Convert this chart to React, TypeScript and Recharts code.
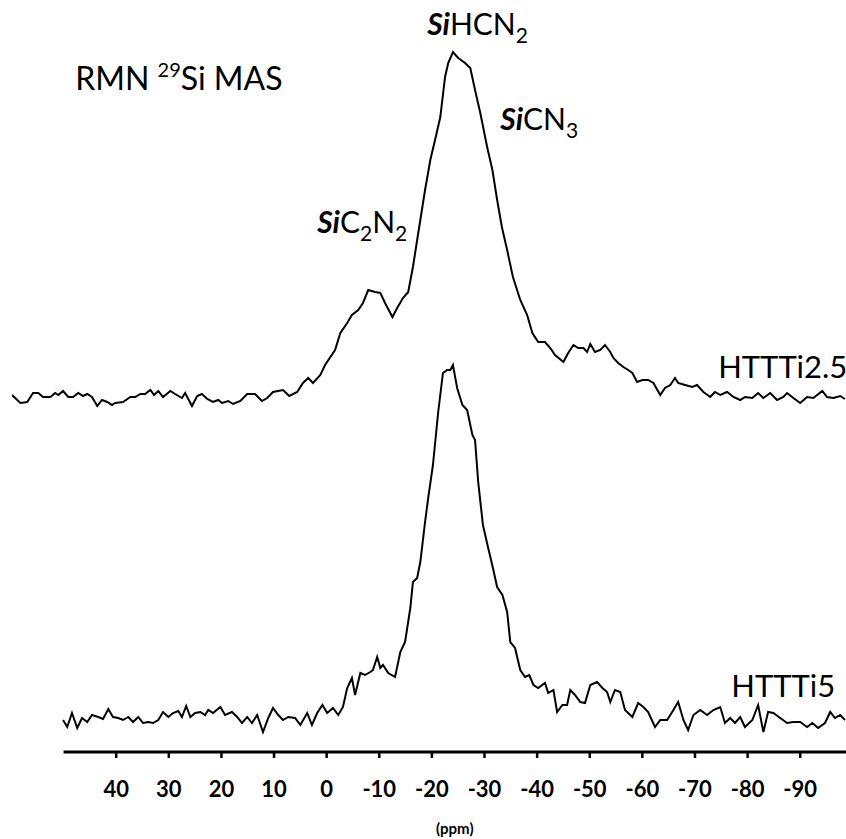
import { LineChart, Line, XAxis, YAxis, ReferenceLine, ReferenceDot } from "recharts"

// chemical shift (ppm) and intensity (a.u., relative to each baseline)
const topPpm = [
  59.8, 58.2, 56.9, 55.8, 54.8, 53.9, 52.5, 51.6, 51.0, 50.1, 49.1, 48.2, 47.2, 46.3, 45.5, 44.6,
  43.6, 42.7, 41.7, 40.8, 40.2, 38.7, 37.3, 36.4, 35.4, 34.5, 33.5, 32.8, 32.0, 31.1, 29.7, 28.8,
  27.5, 26.9, 25.6, 24.6, 23.7, 22.7, 21.6, 20.6, 19.9, 18.7, 17.8, 16.4, 15.1, 13.6, 12.3, 11.3,
  10.2, 8.3, 7.1, 5.6, 4.5, 3.5, 2.6, 1.2, 0.3, -0.7, -1.6, -2.6, -3.9, -4.8, -6.0, -6.9, -7.9,
  -9.2, -10.2, -11.1, -12.5, -13.4, -14.5, -15.5, -16.4, -17.2, -17.8, -18.7, -19.7, -20.6, -21.6,
  -22.5, -23.1, -24.0, -25.0, -26.3, -27.3, -28.2, -29.2, -30.5, -31.5, -32.4, -33.3, -34.3, -35.4,
  -36.8, -38.1, -39.1, -40.2, -41.5, -42.5, -43.4, -45.0, -45.9, -46.9, -47.8, -48.8, -49.5, -50.1,
  -51.0, -52.0, -52.9, -53.9, -54.5, -55.4, -56.4, -57.3, -58.1, -59.0, -60.0, -61.1, -62.1, -63.4,
  -64.3, -65.3, -66.2, -66.8, -68.1, -69.5, -70.4, -71.6, -72.9, -73.8, -74.8, -76.1, -77.3, -78.6,
  -79.5, -80.9, -82.0, -83.0, -84.3, -85.6, -86.8, -87.5, -88.7, -90.0, -91.3, -92.5, -94.2, -95.1,
  -96.3, -97.6, -98.5,
]
const topInt = [
  1, -7, -6, 3, 3, -1, -1, 3, 1, 5, -1, -1, 3, 0, 2, -1,
  -10, -4, -6, -9, -7, -6, -1, -1, 2, 2, 6, 1, 5, -1, 5, 2,
  -2, 3, -10, 0, 2, -3, -6, -4, -7, -5, -8, -5, 2, 2, -5, -2,
  4, 6, 0, 4, 13, 18, 13, 21, 31, 39, 46, 63, 73, 81, 86, 93, 106,
  104, 103, 93, 79, 88, 98, 104, 129, 156, 176, 206, 236, 256, 279,
  319, 333, 344, 338, 333, 328, 306, 283, 249, 226, 196, 169, 146, 119,
  96, 81, 63, 54, 54, 48, 41, 34, 43, 51, 48, 48, 44, 52,
  44, 46, 51, 44, 38, 33, 29, 26, 23, 14, 16, 16, 13, 1,
  8, 11, 18, 13, 11, 9, 11, 4, -1, 4, 1, 4, -1, -4,
  -1, -2, 3, -2, 3, -4, -1, 3, -2, -7, -1, -2, 5, -1,
  -2, 0, -3,
]

const bottomPpm = [
  50.1, 49.3, 48.4, 47.4, 46.5, 45.5, 44.6, 43.4, 42.5, 41.5, 40.6, 39.6, 38.7, 37.7, 36.8, 35.8,
  34.9, 33.9, 33.0, 32.0, 31.1, 30.1, 29.2, 28.2, 27.5, 26.7, 25.9, 25.0, 24.0, 23.1, 22.5, 21.6,
  20.2, 19.3, 18.0, 17.0, 16.1, 15.1, 14.2, 13.2, 12.1, 11.1, 10.2, 9.2, 8.3, 7.3, 6.0, 5.0, 3.7,
  2.8, 1.8, 0.8, -0.1, -1.2, -2.2, -3.1, -3.9, -4.8, -5.4, -6.4, -7.3, -8.3, -8.8, -9.6, -10.2,
  -10.7, -11.7, -13.0, -14.0, -14.9, -15.9, -16.4, -17.2, -17.8, -18.7, -19.3, -20.2, -21.2, -22.1,
  -22.9, -23.5, -24.0, -24.8, -25.8, -26.7, -27.7, -28.2, -28.8, -29.7, -30.7, -31.6, -32.4, -33.4,
  -34.3, -34.9, -35.8, -36.8, -37.7, -38.5, -39.3, -40.2, -41.5, -42.1, -43.1, -43.8, -44.8, -45.7,
  -46.3, -47.2, -48.2, -49.1, -50.1, -51.4, -52.4, -53.3, -53.9, -54.8, -55.8, -56.7, -58.1, -59.2,
  -60.2, -61.1, -62.4, -63.4, -64.7, -65.9, -66.8, -67.8, -68.7, -69.7, -71.0, -72.3, -73.5, -74.8,
  -75.7, -76.7, -77.6, -78.6, -79.5, -80.9, -82.0, -83.0, -83.9, -84.9, -86.2, -87.5, -88.7, -90.0,
  -91.3, -92.3, -93.4, -94.7, -95.7, -96.6, -97.6, -98.5,
]
const bottomInt = [
  -2, -9, 5, -10, 0, -4, 3, 1, -1, 9, 1, 0, -2, 1, -4, 1,
  -5, -4, -5, -2, 6, 1, 5, 7, 1, 12, 1, 5, 6, 3, 8, 5,
  11, 3, 6, 1, -5, 1, -5, 3, -14, 0, 10, 3, -2, 1, 0, -7, 5,
  -7, 5, 13, 5, 10, 3, 11, 30, 40, 23, 45, 43, 46, 48, 61, 50,
  53, 45, 41, 66, 76, 110, 136, 140, 156, 196, 220, 253, 306, 345,
  348, 348, 353, 330, 313, 308, 283, 278, 236, 193, 170, 150, 131, 123,
  106, 76, 70, 48, 41, 43, 33, 30, 35, 25, 28, 6, 13, 13,
  28, 23, 16, 15, 33, 36, 30, 26, 16, 28, 26, 8, 1, 15,
  11, 6, -9, -2, -2, 8, 16, -2, -12, 3, 8, 3, 8, 11,
  -5, 0, -5, 1, -9, -2, 13, -14, 6, 5, 0, -5, -4, -4,
  -9, -5, -10, -5, 6, 0, 3, -2,
]

const ppmTicks = [40, 30, 20, 10, 0, -10, -20, -30, -40, -50, -60, -70, -80, -90]

// vertical stacking of the two spectra
const TOP_OFFSET = 356
const BOTTOM_OFFSET = 34

const topData = topPpm.map((p, i) => ({ ppm: p, v: topInt[i] + TOP_OFFSET }))
const bottomData = bottomPpm.map((p, i) => ({ ppm: p, v: bottomInt[i] + BOTTOM_OFFSET }))

const FONT = "Lato, 'Open Sans', sans-serif"

const note = (draw: (x: number, y: number) => any) => (props: any) => {
  const vb = props.viewBox || {}
  const x = vb.cx ?? vb.x
  const y = vb.cy ?? vb.y
  if (x == null || y == null) return null
  return draw(x, y)
}

const si = { fontWeight: 700, fontStyle: "italic" } as const

export default function App() {
  return (
    <div style={{ position: "absolute", left: 0, top: 0, background: "#fff" }}>
      <LineChart
        width={846}
        height={839}
        margin={{ top: 32, right: 0, left: 12, bottom: 0 }}
      >
        <XAxis
          dataKey="ppm"
          type="number"
          domain={[-98.7, 59.8]}
          reversed
          allowDataOverflow
          ticks={ppmTicks}
          interval={0}
          height={87}
          axisLine={false}
          tickLine={{ stroke: "#000", strokeWidth: 2.5 }}
          tickSize={6}
          tickMargin={23}
          tick={{ fill: "#000", fontSize: 22, fontWeight: 700, fontFamily: FONT }}
        />
        <YAxis type="number" domain={[0, 720]} hide allowDataOverflow />

        <ReferenceLine
          segment={[{ x: 50, y: 0 }, { x: -98.7, y: 0 }]}
          stroke="#000"
          strokeWidth={3}
          ifOverflow="visible"
        />

        <Line
          data={topData}
          dataKey="v"
          type="linear"
          stroke="#000"
          strokeWidth={2}
          dot={false}
          isAnimationActive={false}
        />
        <Line
          data={bottomData}
          dataKey="v"
          type="linear"
          stroke="#000"
          strokeWidth={2}
          dot={false}
          isAnimationActive={false}
        />

        <ReferenceDot
          x={47.8}
          y={662}
          r={0}
          ifOverflow="visible"
          label={note((x, y) => (
            <text x={x} y={y} fontFamily={FONT} fontSize={32} fill="#000">
              RMN{" "}
              <tspan dy={-13} fontSize={20}>29</tspan>
              <tspan dy={13}>Si MAS</tspan>
            </text>
          ))}
        />
        <ReferenceDot
          x={-19.1}
          y={717}
          r={0}
          ifOverflow="visible"
          label={note((x, y) => (
            <text x={x} y={y} fontFamily={FONT} fontSize={30} fill="#000">
              <tspan {...si}>Si</tspan>HCN
              <tspan dy={8} fontSize={21}>2</tspan>
            </text>
          ))}
        />
        <ReferenceDot
          x={-33.0}
          y={622}
          r={0}
          ifOverflow="visible"
          label={note((x, y) => (
            <text x={x} y={y} fontFamily={FONT} fontSize={30} fill="#000">
              <tspan {...si}>Si</tspan>CN
              <tspan dy={8} fontSize={21}>3</tspan>
            </text>
          ))}
        />
        <ReferenceDot
          x={1.8}
          y={519}
          r={0}
          ifOverflow="visible"
          label={note((x, y) => (
            <text x={x} y={y} fontFamily={FONT} fontSize={30} fill="#000">
              <tspan {...si}>Si</tspan>C
              <tspan dy={8} fontSize={21}>2</tspan>
              <tspan dy={-8}>N</tspan>
              <tspan dy={8} fontSize={21}>2</tspan>
            </text>
          ))}
        />
        <ReferenceDot
          x={-74.4}
          y={374}
          r={0}
          ifOverflow="visible"
          label={note((x, y) => (
            <text x={x} y={y} fontFamily={FONT} fontSize={31} fill="#000">
              HTTTi2.5
            </text>
          ))}
        />
        <ReferenceDot
          x={-76.9}
          y={55}
          r={0}
          ifOverflow="visible"
          label={note((x, y) => (
            <text x={x} y={y} fontFamily={FONT} fontSize={31} fill="#000">
              HTTTi5
            </text>
          ))}
        />
        <ReferenceDot
          x={-24.35}
          y={-82}
          r={0}
          ifOverflow="visible"
          label={note((x, y) => (
            <text x={x} y={y} textAnchor="middle" fontFamily={FONT} fontSize={15} fontWeight={700} fill="#000">
              (ppm)
            </text>
          ))}
        />
      </LineChart>
    </div>
  )
}
